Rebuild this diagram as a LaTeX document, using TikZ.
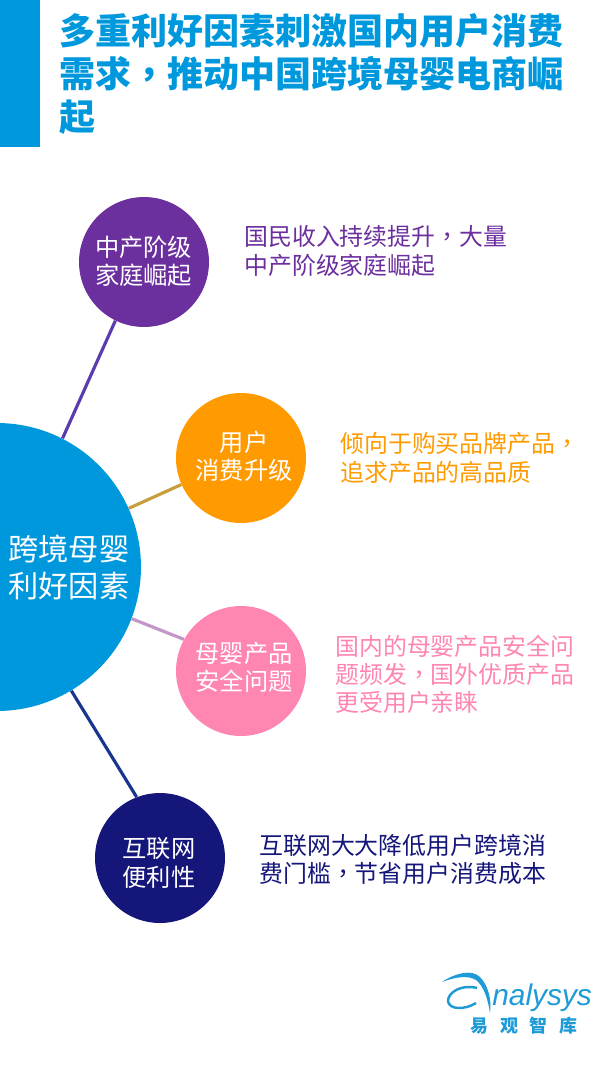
\documentclass[tikz,border=0pt]{standalone}
\usepackage{fontspec}
\setmainfont{Noto Sans CJK SC}
\newfontfamily\latinfont{Liberation Sans}
\newfontfamily\tcfont{Noto Sans CJK TC}
\newcommand{\zhcomma}{{\tcfont ，}}
\definecolor{titleblue}{HTML}{0098DC}
\definecolor{midpurple}{HTML}{6B2F9E}
\definecolor{midorange}{HTML}{FF9A00}
\definecolor{midpink}{HTML}{FF85B2}
\definecolor{midnavy}{HTML}{15167A}
\definecolor{logoblue}{HTML}{1E9BD7}
\definecolor{spokepurple}{HTML}{5A3CAE}
\definecolor{spokeorange}{HTML}{C89E3C}
\definecolor{spokepink}{HTML}{C496C8}
\definecolor{spokenavy}{HTML}{1A3590}
\tikzset{
  hub/.style={circle,fill=titleblue,minimum size=5.76cm,inner sep=0pt},
  factor/.style={circle,minimum size=2.6cm,inner sep=0pt},
  circletext/.style={text=white,inner sep=0pt,align=center,font=\fontsize{13.8}{16}\selectfont},
  note/.style={anchor=west,inner sep=0pt,align=left,font=\fontsize{13.6}{16}\selectfont},
  spoke/.style={line width=1.8pt},
}
\begin{document}
\begin{tikzpicture}[x=0.02cm,y=-0.02cm]
\useasboundingbox (0,0) rectangle (607,1080);
% title
\fill[titleblue] (0,0) rectangle (40,147);
\node[anchor=north west,inner sep=0pt,align=left,text=titleblue,font=\fontsize{20.5}{24.4}\selectfont\bfseries](title) at (59,13) {多重利好因素刺激国内用户消费\\需求\zhcomma 推动中国跨境母婴电商崛\\起};
% circles
\node[hub](hub) at (-3,567) {};
\node[factor,fill=midpurple](income) at (144,262) {};
\node[factor,fill=midorange](upgrade) at (241,458) {};
\node[factor,fill=midpink](safety) at (241,671) {};
\node[factor,fill=midnavy](web) at (160,858) {};
\node[circletext,font=\fontsize{17.2}{21}\selectfont](hublabel) at (69,567) {跨境母婴\\利好因素};
\node[circletext](incomelabel) at (143.5,261) {中产阶级\\家庭崛起};
\node[circletext](upgradelabel) at (244,456) {用户\\消费升级};
\node[circletext](safetylabel) at (244,667) {母婴产品\\安全问题};
\node[circletext](weblabel) at (159,863) {互联网\\便利性};
% spokes
\draw[spoke,draw=spokepurple] (hub.63) -- (income.244);
\draw[spoke,draw=spokeorange] (hub.24) -- (upgrade.204);
\draw[spoke,draw=spokepink] (hub.-21) -- (safety.151);
\draw[spoke,draw=spokenavy] (hub.-59) -- (web.111);
% notes
\node[note,text=midpurple](incometext) at (244,251) {国民收入持续提升\zhcomma 大量\\中产阶级家庭崛起};
\node[note,text=midorange](upgradetext) at (340,458) {倾向于购买品牌产品\zhcomma\\追求产品的高品质};
\node[note,text=midpink](safetytext) at (335,674) {国内的母婴产品安全问\\题频发\zhcomma 国外优质产品\\更受用户亲睐};
\node[note,text=midnavy](webtext) at (259,859) {互联网大大降低用户跨境消\\费门槛\zhcomma 节省用户消费成本};
% logo
\fill[logoblue] (442,982) .. controls (455,973) and (472,969) .. (480,977) .. controls (488,985) and (492,1000) .. (490,1013) .. controls (488,1000) and (484,986) .. (476,980) .. controls (468,975) and (455,977) .. (442,982) -- cycle;
\draw[logoblue,line width=1.4pt] (477,988) .. controls (462,984) and (448,992) .. (448,1001) .. controls (449,1010) and (465,1010) .. (476,1003);
\node[anchor=west,inner sep=0pt,text=logoblue,font=\latinfont\fontsize{17}{17}\selectfont\itshape](logotext) at (492,998) {nalysys};
\node[inner sep=0pt,text=logoblue,font=\fontsize{10.2}{12}\selectfont\bfseries](logoname) at (524,1026) {易\hspace{6.8pt}观\hspace{6.8pt}智\hspace{6.8pt}库};
\end{tikzpicture}
\end{document}
